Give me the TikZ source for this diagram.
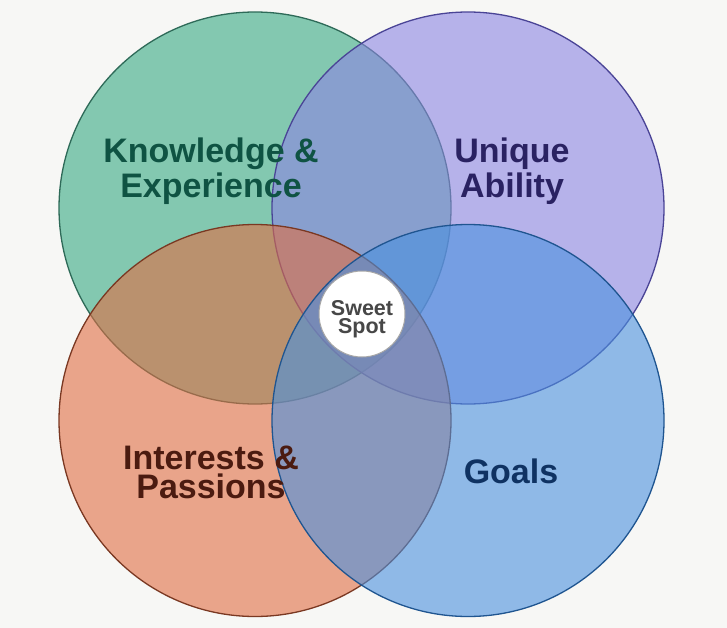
\documentclass[tikz,border=0pt]{standalone}
\usepackage{fontspec}
\setmainfont{Liberation Sans}
\begin{document}
\begin{tikzpicture}[x=1pt,y=-1pt,
  venn/.style={circle, minimum size=392pt, inner sep=0pt, fill opacity=0.6, line width=1.3pt},
  biglabel/.style={font=\bfseries\fontsize{34}{35}\selectfont, align=center, inner sep=0pt},
  sweet/.style={circle, minimum size=86pt, inner sep=0pt, fill=white, draw=gray!70, line width=1pt},
  sweettext/.style={font=\bfseries\fontsize{21.5}{18}\selectfont, align=center, text=black!72, inner sep=0pt}]
\definecolor{bg}{HTML}{F7F7F5}
\definecolor{cgreen}{HTML}{37A982}
\definecolor{cpurple}{HTML}{8C84E3}
\definecolor{cred}{HTML}{E06D43}
\definecolor{cblue}{HTML}{4A91DF}
\definecolor{sgreen}{HTML}{2E6A58}
\definecolor{spurple}{HTML}{4A4496}
\definecolor{sred}{HTML}{7A3822}
\definecolor{sblue}{HTML}{1F5590}
\definecolor{tgreen}{HTML}{0F5343}
\definecolor{tpurple}{HTML}{2A2262}
\definecolor{tred}{HTML}{4B1B10}
\definecolor{tblue}{HTML}{0F3262}
\fill[bg] (0,0) rectangle (727,628);
\useasboundingbox (0,0) rectangle (727,628);
\node[venn, fill=cgreen, draw=sgreen] (know) at (255,208) {};
\node[venn, fill=cpurple, draw=spurple] (uniq) at (468,208) {};
\node[venn, fill=cred, draw=sred] (inter) at (255,420.5) {};
\node[venn, fill=cblue, draw=sblue] (goals) at (468,420.5) {};
\node[biglabel, text=tgreen] (knowt) at (211,171) {Knowledge \&\\Experience};
\node[biglabel, text=tpurple] (uniqt) at (512,171) {Unique\\Ability};
\node[biglabel, text=tred, font=\bfseries\fontsize{34}{29}\selectfont] (intert) at (211,472) {Interests \&\\Passions};
\node[biglabel, text=tblue] (goalst) at (511,471) {Goals};
\node[sweet] (spot) at (362,314) {};
\node[sweettext] (spott) at (362,319) {Sweet\\Spot};
\end{tikzpicture}
\end{document}
